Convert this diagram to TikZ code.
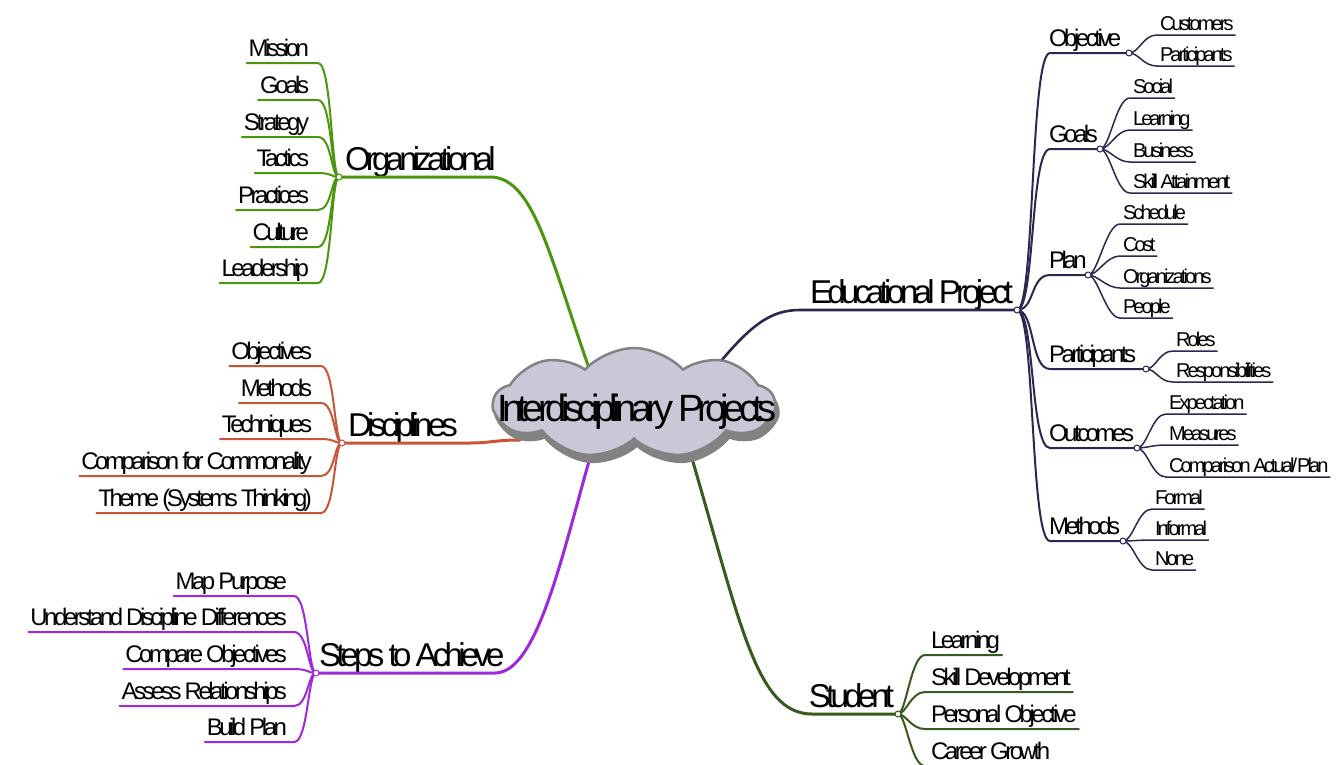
\documentclass[tikz,border=0pt]{standalone}
\usepackage{fontspec}
\setmainfont{Liberation Sans}[LetterSpace=-14.5]
\usetikzlibrary{shapes.symbols,calc}
\definecolor{orgc}{RGB}{75,150,15}
\definecolor{disc}{RGB}{200,85,55}
\definecolor{stepc}{RGB}{160,40,220}
\definecolor{studc}{RGB}{55,90,30}
\definecolor{educ}{RGB}{40,40,80}
\definecolor{cloudfill}{RGB}{200,200,215}
\definecolor{cloudline}{RGB}{130,130,130}
\tikzset{
 txt/.style={inner sep=0pt, outer sep=0pt},
 fcenter/.style={txt, font=\fontsize{38}{40}\selectfont},
 fmain/.style={txt, font=\fontsize{33}{38}\selectfont},
 fmid/.style={txt, font=\fontsize{24}{28}\selectfont},
 fsmall/.style={txt, font=\fontsize{20}{24}\selectfont},
 mainline/.style={line width=3pt, line cap=round},
 leafline/.style={line width=2pt, line cap=round},
 eduline/.style={line width=2pt, color=educ},
 eduleaf/.style={line width=1.5pt, color=educ},
 knot/.style={circle, draw, fill=white, inner sep=0pt, minimum size=6pt, line width=1pt},
 cloudshape/.style={cloud, cloud puffs=9, cloud puff arc=95, cloud ignores aspect, minimum width=280pt, minimum height=110pt, line width=2.5pt, draw=cloudline},
}
\begin{document}
\begin{tikzpicture}[x=1pt,y=-1pt]
\useasboundingbox[fill=white] (0,0) rectangle (1340,764);

% ---------- Organizational ----------
\coordinate (ko) at (339,177);
\coordinate (c-org) at (595,385);
\node[fmain, anchor=base west] (org) at (345,170) {Organizational};
\draw[mainline, orgc] (ko) -- (490,177) .. controls (535,177) and (550,260) .. (c-org);
\foreach \n/\t/\y in {o1/Mission/63,o2/Goals/100,o3/Strategy/137,o4/Tactics/173,o5/Practices/210,o6/Culture/247,o7/Leadership/283}{
 \node[fmid, anchor=base east] (\n) at (309,\y-7) {\t};
 \draw[leafline, orgc] ($(\n.base west)+(-2,7)$) -- (318,\y) .. controls +(14,0) and +(-8,0) .. (ko);
}

% ---------- Disciplines ----------
\coordinate (kd) at (342,443);
\coordinate (c-dis) at (520,440);
\node[fmain, anchor=base west] (dis) at (348,436) {Disciplines};
\draw[mainline, disc] (kd) -- (470,443) .. controls (490,443) and (495,440) .. (c-dis);
\foreach \n/\t/\y in {d1/Objectives/366,d2/Methods/403,d3/Techniques/439,d4/Comparison for Commonality/476,d5/Theme (Systems Thinking)/513}{
 \node[fmid, anchor=base east] (\n) at (312,\y-7) {\t};
 \draw[leafline, disc] ($(\n.base west)+(-2,7)$) -- (321,\y) .. controls +(14,0) and +(-8,0) .. (kd);
}

% ---------- Steps to Achieve ----------
\coordinate (ks) at (316,673);
\coordinate (c-steps) at (598,430);
\node[fmain, anchor=base west] (steps) at (319,666) {Steps to Achieve};
\draw[mainline, stepc] (ks) -- (495,673) .. controls (540,673) and (565,540) .. (c-steps);
\foreach \n/\t/\y in {s1/Map Purpose/596,s2/Understand Discipline Differences/632,s3/Compare Objectives/669,s4/Assess Relationships/706,s5/Build Plan/742}{
 \node[fmid, anchor=base east] (\n) at (287,\y-7) {\t};
 \draw[leafline, stepc] ($(\n.base west)+(-2,7)$) -- (294,\y) .. controls +(14,0) and +(-8,0) .. (ks);
}

% ---------- Student ----------
\coordinate (kst) at (898,714);
\coordinate (c-stu) at (688,445);
\node[fmain, anchor=base east] (stu) at (894,707) {Student};
\draw[mainline, studc] (kst) -- (812,714) .. controls (755,714) and (740,620) .. (c-stu);
\foreach \n/\t/\y in {t1/Learning/655,t2/Skill Development/692,t3/Personal Objective/729,t4/Career Growth/766}{
 \node[fmid, anchor=base west] (\n) at (931,\y-7) {\t};
 \draw[leafline, studc] (kst) .. controls +(8,0) and +(-14,0) .. (925,\y) -- ($(\n.base east)+(2,7)$);
}

% ---------- Educational Project ----------
\coordinate (ke) at (1017,310);
\coordinate (c-edu) at (712,372);
\node[fmain, anchor=base east] (edu) at (1013,303) {Educational Project};
\draw[mainline, educ, line width=2.6pt] (ke) -- (800,310) .. controls (770,310) and (750,325) .. (c-edu);
\foreach \n/\t/\y/\kx in {eo/Objective/53/1129,eg/Goals/149/1100,ep/Plan/275/1088,epa/Participants/369/1146,eoc/Outcomes/448/1137,em/Methods/541/1123}{
 \node[fmid, anchor=base west] (\n) at (1049,\y-7) {\t};
 \coordinate (k\n) at (\kx,\y);
 \draw[eduline] (ke) .. controls (1035,310) and (1030,\y) .. (1050,\y) -- (k\n);
}
\foreach \n/\t/\y/\k/\lx in {
 a1/Customers/35/keo/1157, a2/Participants/66/keo/1157,
 b1/Social/98/keg/1130, b2/Learning/130/keg/1130, b3/Business/162/keg/1130, b4/Skill Attainment/193/keg/1130,
 c1/Schedule/224/kep/1120, c2/Cost/256/kep/1120, c3/Organizations/288/kep/1120, c4/People/318/kep/1120,
 e1/Roles/351/kepa/1173, e2/Responsibilities/382/kepa/1173,
 f1/Expectation/414/keoc/1166, f2/Measures/445/keoc/1166, f3/Comparison Actual\slash Plan/477/keoc/1166,
 g1/Formal/509/kem/1152, g2/Informal/540/kem/1152, g3/None/570/kem/1152}{
 \node[fsmall, anchor=base west] (\n) at (\lx+3,\y-5) {\t};
 \draw[eduleaf] (\k) .. controls +(10,0) and +(-14,0) .. (\lx,\y) -- ($(\n.base east)+(2,5)$);
}

% ---------- knots ----------
\node[knot, draw=orgc] at (ko) {};
\node[knot, draw=disc] at (kd) {};
\node[knot, draw=stepc] at (ks) {};
\node[knot, draw=studc] at (kst) {};
\foreach \k in {ke,keo,keg,kep,kepa,keoc,kem}{
 \node[knot, draw=educ] at (\k) {};
}

% ---------- central cloud ----------
\node[cloudshape, fill=cloudline] (cloudsh) at (637,410) {};
\node[cloudshape, fill=cloudfill] (cloud) at (634,403) {};
\node[fcenter, anchor=base] (title) at (637,421) {Interdisciplinary Projects};
\end{tikzpicture}
\end{document}
